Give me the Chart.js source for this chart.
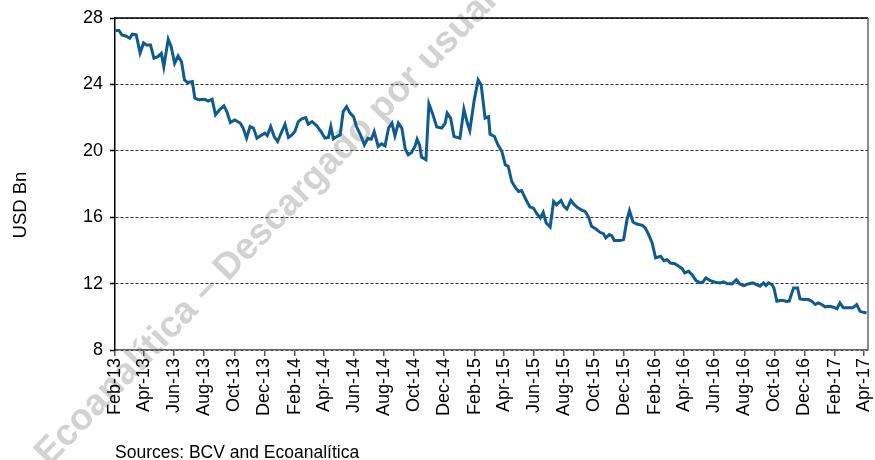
<!DOCTYPE html>
<html>
<head>
<meta charset="utf-8">
<script src="https://cdn.jsdelivr.net/npm/chart.js@4.4.0/dist/chart.umd.min.js"></script>
<style>
  html, body { margin: 0; padding: 0; background: #fff; }
  #wrap { width: 875px; height: 460px; }
</style>
</head>
<body>
<div id="wrap"><canvas id="reservesChart" width="875" height="460"></canvas></div>
<script>
// Days since 1 Feb 2013 for each observation
const days = [
  1, 8, 14, 22, 30, 35, 43, 51, 58, 64, 72, 79, 87, 94, 99, 108, 114, 121, 128, 135,
  141, 148, 157, 162, 170, 182, 189, 197, 204, 212, 221, 227, 234, 243,
  254, 260, 267, 274, 281, 288, 296, 304, 309, 316, 323, 330, 337, 345, 352, 359,
  365, 372, 379, 387, 392, 400, 409, 418, 426, 433, 438, 443, 450, 457, 463, 470,
  477, 484, 490, 499,
  506, 513, 520, 526, 534, 541, 548, 555, 562, 568, 575, 582, 589, 595, 602, 609,
  613, 618, 622, 631, 637, 644, 653, 663, 670, 674, 681, 688, 700, 708, 715, 720,
  729, 737, 743, 751, 758, 761,
  770, 777, 785, 792, 798, 805, 813, 819, 825, 834, 842, 849, 856, 863, 869, 875,
  883, 890, 896, 905, 911, 917, 925, 932, 940, 948, 954, 961, 967, 976, 984, 991,
  996, 1003, 1008, 1013,
  1025, 1032, 1039, 1044, 1051, 1059, 1070, 1076, 1083, 1090, 1097, 1107, 1114, 1120,
  1127, 1136, 1144, 1151, 1156, 1164, 1171, 1179, 1188, 1193, 1199, 1208, 1218, 1228,
  1235, 1242, 1252, 1261, 1268,
  1276, 1285, 1294, 1302, 1309, 1316, 1321, 1326, 1333, 1337, 1343, 1350, 1356, 1363,
  1368, 1377, 1385, 1390, 1398, 1407, 1414, 1421, 1427, 1434, 1441, 1450, 1458, 1465,
  1471, 1478, 1488, 1497, 1505, 1512, 1519, 1525
];

// International reserves, USD Bn
const reserves = [
  27.24, 27.25, 26.98, 26.92, 26.78, 27.02, 26.98, 25.9, 26.5, 26.38, 26.38, 25.58, 25.67, 25.87, 25.07, 26.72, 26.27, 25.27, 25.71, 25.37,
  24.27, 24.11, 24.17, 23.17, 23.07, 23.11, 23.0, 23.11, 22.17, 22.47, 22.71, 22.36, 21.7, 21.86,
  21.67, 21.37, 20.76, 21.46, 21.37, 20.76, 20.92, 21.06, 20.92, 21.46, 20.86, 20.56, 21.06, 21.6, 20.8, 20.96,
  21.16, 21.76, 21.92, 22.0, 21.6, 21.76, 21.52, 21.16, 20.76, 20.8, 21.46, 20.72, 20.86, 20.96, 22.36, 22.66,
  22.27, 22.06, 21.46, 20.9,
  20.36, 20.76, 20.7, 21.16, 20.26, 20.42, 20.3, 21.37, 21.67, 20.9, 21.67, 21.37, 20.1, 19.76, 19.9, 20.3,
  20.7, 20.36, 19.62, 19.46, 22.83, 22.27, 21.43, 21.37, 21.67, 22.27, 21.97, 20.86, 20.76, 22.51, 21.67, 21.22,
  23.07, 24.27, 23.97, 21.97, 22.06, 21.0,
  20.86, 20.36, 19.96, 19.16, 19.06, 18.15, 17.76, 17.55, 17.61, 17.05, 16.61, 16.55, 16.21, 15.95, 16.29, 15.65,
  15.41, 16.95, 16.75, 17.01, 16.65, 16.49, 17.01, 16.75, 16.55, 16.41, 16.35, 16.01, 15.45, 15.29, 15.09, 15.01,
  14.75, 14.95, 14.89, 14.6,
  14.59, 14.65, 15.85, 16.39, 15.71, 15.59, 15.51, 15.35, 14.95, 14.45, 13.55, 13.65, 13.38, 13.44,
  13.24, 13.2, 13.04, 12.9, 12.64, 12.74, 12.54, 12.18, 12.04, 12.1, 12.34, 12.18, 12.08, 12.04,
  12.1, 12.0, 11.98, 12.24, 11.98,
  11.88, 11.98, 12.04, 11.94, 11.84, 12.04, 11.88, 12.04, 11.94, 11.74, 10.94, 10.98, 10.98, 10.92,
  10.94, 11.74, 11.74, 11.08, 11.04, 11.04, 10.94, 10.74, 10.84, 10.74, 10.6, 10.64, 10.58, 10.48,
  10.84, 10.54, 10.54, 10.54, 10.74, 10.33, 10.27, 10.23
];

// X axis labels, one every two months
const tickLabels = [
  "Feb-13", "Apr-13", "Jun-13", "Aug-13", "Oct-13", "Dec-13",
  "Feb-14", "Apr-14", "Jun-14", "Aug-14", "Oct-14", "Dec-14",
  "Feb-15", "Apr-15", "Jun-15", "Aug-15", "Oct-15", "Dec-15",
  "Feb-16", "Apr-16", "Jun-16", "Aug-16", "Oct-16", "Dec-16",
  "Feb-17", "Apr-17"
];

// Y axis range and step
const yMin = 8;
const yMax = 28;
const yStep = 4;

const sourceText = "Sources: BCV and Ecoanalítica";
const yTitle = "USD Bn";
const watermark = "© Ecoanalítica – Descargado por usuario";

document.addEventListener("DOMContentLoaded", () => {
  const monthIdx = { Jan: 0, Feb: 1, Mar: 2, Apr: 3, May: 4, Jun: 5, Jul: 6, Aug: 7, Sep: 8, Oct: 9, Nov: 10, Dec: 11 };
  const start = Date.UTC(2013, 1, 1);
  // day offset of each tick label's first day of month
  const tickDays = tickLabels.map((lbl) => {
    const [m, y] = lbl.split("-");
    return Math.round((Date.UTC(2000 + Number(y), monthIdx[m], 1) - start) / 86400000);
  });

  const points = days.map((d, i) => ({ x: d, y: reserves[i] }));

  Chart.defaults.font.family = '"Liberation Sans", Arial, sans-serif';
  Chart.defaults.font.size = 18;
  Chart.defaults.color = "#000";

  // extra drawing: watermark, frame, y title and source note
  const extras = {
    id: "extras",
    beforeDraw(chart) {
      const ctx = chart.ctx;
      ctx.save();
      ctx.font = 'bold 37px "Liberation Sans", Arial, sans-serif';
      ctx.fillStyle = "#d2d2d2";
      ctx.textBaseline = "middle";
      ctx.translate(42, 460);
      ctx.rotate((-46 * Math.PI) / 180);
      const lead = ctx.measureText("© ").width;
      ctx.fillText(watermark, -lead, 0);
      ctx.restore();
    },
    afterDraw(chart) {
      const { ctx, chartArea: a } = chart;
      ctx.save();
      ctx.lineWidth = 1.5;
      ctx.strokeStyle = "#000";
      ctx.beginPath();
      ctx.moveTo(a.left, a.top);
      ctx.lineTo(a.right, a.top);
      ctx.stroke();
      ctx.strokeStyle = "#666";
      ctx.beginPath();
      ctx.moveTo(a.right, a.top);
      ctx.lineTo(a.right, a.bottom);
      ctx.stroke();

      ctx.fillStyle = "#000";
      ctx.font = '18.5px "Liberation Sans", Arial, sans-serif';
      ctx.textAlign = "center";
      ctx.textBaseline = "middle";
      ctx.translate(21, 205);
      ctx.rotate(-Math.PI / 2);
      ctx.fillText(yTitle, 0, 0);
      ctx.restore();

      ctx.save();
      ctx.fillStyle = "#000";
      ctx.font = '17.5px "Liberation Sans", Arial, sans-serif';
      ctx.textBaseline = "alphabetic";
      ctx.fillText(sourceText, 115, 458);
      ctx.restore();
    },
  };

  new Chart(document.getElementById("reservesChart"), {
    type: "line",
    data: {
      datasets: [
        {
          label: "Reserves",
          data: points,
          borderColor: "#0f5a8f",
          borderWidth: 3,
          pointRadius: 0,
          fill: false,
          tension: 0,
        },
      ],
    },
    options: {
      responsive: false,
      animation: false,
      devicePixelRatio: 1,
      layout: { padding: { top: 18, right: 7, bottom: 0, left: 0 } },
      plugins: { legend: { display: false }, tooltip: { enabled: false } },
      scales: {
        x: {
          type: "linear",
          min: 0,
          max: 1528,
          afterBuildTicks: (scale) => {
            scale.ticks = tickDays.map((v) => ({ value: v }));
          },
          afterFit: (scale) => {
            scale.height = 110;
            scale.paddingLeft = 0; // keep the plot box fixed
            scale.paddingRight = 0;
          },
          ticks: {
            autoSkip: false,
            minRotation: 90,
            maxRotation: 90,
            padding: 2,
            callback: (value) => {
              const i = tickDays.indexOf(value);
              return i >= 0 ? tickLabels[i] : "";
            },
          },
          grid: { drawOnChartArea: false, tickLength: 6, tickColor: "#555", lineWidth: 1.5 },
          border: { color: "#666", width: 1.5 },
        },
        y: {
          min: yMin,
          max: yMax,
          afterFit: (scale) => {
            scale.width = 115;
          },
          ticks: { stepSize: yStep, padding: 7 },
          grid: { color: "#333", lineWidth: 1, tickLength: 5, tickColor: "#000", tickWidth: 1.5 },
          border: { color: "#000", width: 1.5, dash: [3, 2] },
        },
      },
    },
    plugins: [extras],
  });
});
</script>
</body>
</html>
